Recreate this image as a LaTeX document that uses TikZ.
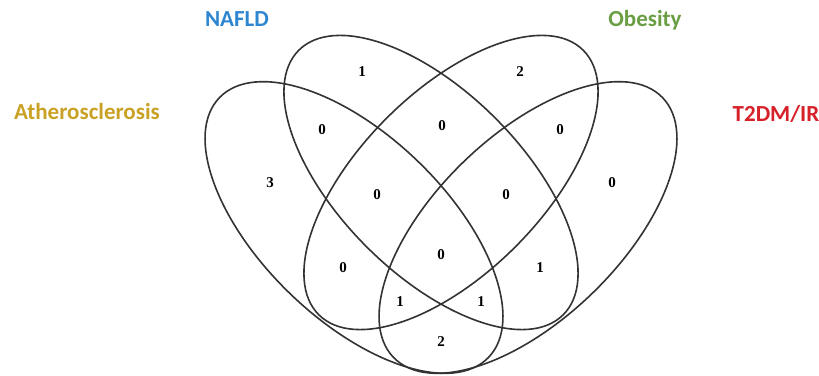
\documentclass[tikz,border=0pt]{standalone}
\usepackage{fontspec}
\setmainfont{Liberation Serif}
\newfontfamily\labelfont{Carlito}
\definecolor{AthGold}{HTML}{C9A125}
\definecolor{NafBlue}{HTML}{2F86D0}
\definecolor{ObeGreen}{HTML}{6A9E43}
\definecolor{TdmRed}{HTML}{D6202A}
\definecolor{LineGray}{HTML}{333333}

\begin{document}
\begin{tikzpicture}[x=0.5pt, y=0.5pt,
    setline/.style={line width=0.8pt, LineGray},
    setname/.style={anchor=base, font=\labelfont\fontsize{11.5}{12}\selectfont\bfseries},
    count/.style={font=\fontsize{7.5}{8}\selectfont\bfseries}]
    \useasboundingbox (0,0) rectangle (819,375);

    % Atherosclerosis ellipse
    \begin{scope}[shift={(354,147.5)}, rotate=136]
        \draw[setline] (0,0) ellipse (187 and 92);
    \end{scope}
    % NAFLD ellipse
    \begin{scope}[shift={(431,192.5)}, rotate=135]
        \draw[setline] (0,0) ellipse (187 and 91);
    \end{scope}
    % Obesity ellipse
    \begin{scope}[shift={(451,192.5)}, rotate=45]
        \draw[setline] (0,0) ellipse (187 and 91);
    \end{scope}
    % T2DM/IR ellipse
    \begin{scope}[shift={(528,147.5)}, rotate=44]
        \draw[setline] (0,0) ellipse (187 and 92);
    \end{scope}

    % Set names
    \node[setname, AthGold] (ath) at (87,255) {Atherosclerosis};
    \node[setname, NafBlue] (naf) at (237,348) {NAFLD};
    \node[setname, ObeGreen] (obe) at (645,348) {Obesity};
    \node[setname, TdmRed] (tdm) at (776,253) {T2DM/IR};

    % Region counts
    \node[count] (cN)    at (362,303) {1};
    \node[count] (cO)    at (520,303) {2};
    \node[count] (cAN)   at (322,245) {0};
    \node[count] (cNO)   at (442,249) {0};
    \node[count] (cOT)   at (560,245) {0};
    \node[count] (cA)    at (270,192) {3};
    \node[count] (cT)    at (612,192) {0};
    \node[count] (cANO)  at (377,180) {0};
    \node[count] (cNOT)  at (506,180) {0};
    \node[count] (cAO)   at (343,107) {0};
    \node[count] (cANOT) at (441,120) {0};
    \node[count] (cNT)   at (540,107) {1};
    \node[count] (cAOT)  at (400,73)  {1};
    \node[count] (cANT)  at (481,73)  {1};
    \node[count] (cAT)   at (441,33)  {2};

\end{tikzpicture}
\end{document}
